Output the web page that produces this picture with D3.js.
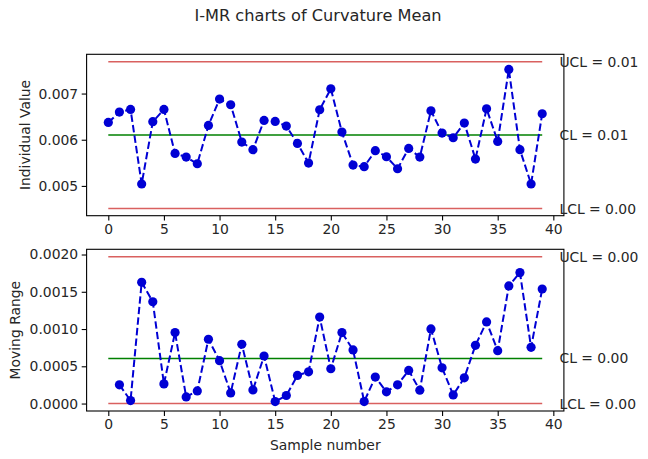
<!DOCTYPE html>
<html>
<head>
<meta charset="utf-8">
<script src="https://cdn.jsdelivr.net/npm/d3@7"></script>
<style>
  html, body { margin: 0; padding: 0; background: #fff; }
  svg { display: block; font-family: "DejaVu Sans", sans-serif; }
</style>
</head>
<body>
<svg id="chart" width="648" height="459"></svg>
<script>
// ---- data ----
const individualValues = [
  0.006374, 0.006600, 0.006656, 0.005041, 0.006390, 0.006656, 0.005704, 0.005625,
  0.005480, 0.006310, 0.006880, 0.006758, 0.005950, 0.005784, 0.006418, 0.006396,
  0.006296, 0.005920, 0.005495, 0.006649, 0.007104, 0.006166, 0.005452, 0.005416,
  0.005762, 0.005632, 0.005372, 0.005812, 0.005625, 0.006628, 0.006145, 0.006043,
  0.006361, 0.005582, 0.006671, 0.005963, 0.007522, 0.005784, 0.005041, 0.006563
];
const movingRanges = [
  null, 0.000251, 0.000040, 0.001627, 0.001366, 0.000264, 0.000952, 0.000089,
  0.000170, 0.000863, 0.000575, 0.000143, 0.000796, 0.000183, 0.000638, 0.000027,
  0.000108, 0.000378, 0.000426, 0.001160, 0.000467, 0.000952, 0.000719, 0.000027,
  0.000355, 0.000157, 0.000251, 0.000445, 0.000179, 0.001002, 0.000480, 0.000116,
  0.000345, 0.000782, 0.001096, 0.000709, 0.001578, 0.001757, 0.000755, 0.001537
];
const iLimits = { UCL: 0.00769, CL: 0.0061, LCL: 0.00451 };
const mrLimits = { UCL: 0.00197, CL: 0.000605, LCL: 0.0 };
const xTicks = [0, 5, 10, 15, 20, 25, 30, 35, 40];
const iTicks = [0.005, 0.006, 0.007];
const mrTicks = [0.0000, 0.0005, 0.0010, 0.0015, 0.0020];
const limitSpan = [0, 39];

const title = "I-MR charts of Curvature Mean";
const iLabel = "Individual Value";
const mrLabel = "Moving Range";
const xLabel = "Sample number";

// ---- layout ----
const svg = d3.select("#chart");
const left = 86.6, right = 563.9;
const topPanel = { y0: 54.3, y1: 215.7, domain: [0.004355, 0.00785] };
const botPanel = { y0: 249.3, y1: 411.0, domain: [-0.0001, 0.00207] };

const x = d3.scaleLinear().domain([-1.95, 40.95]).range([left, right]);
const FONT = 13.9;
const dotColor = "#0000d4";
const redLine = "#d9605f";
const greenLine = "#008000";

svg.append("text")
  .attr("x", 318).attr("y", 21)
  .attr("text-anchor", "middle")
  .attr("font-size", 16.2)
  .attr("fill", "#262626")
  .text(title);

function panel(p, values, limits, yTicks, yFmt, yLabelText, yLabelX, showXLabel) {
  const y = d3.scaleLinear().domain(p.domain).range([p.y1, p.y0]);
  const g = svg.append("g");

  const xa = g.append("g").attr("transform", `translate(0,${p.y1})`)
    .call(d3.axisBottom(x).tickValues(xTicks).tickFormat(d3.format("d")).tickSizeOuter(0).tickSize(4.9).tickPadding(3.5));
  const ya = g.append("g").attr("transform", `translate(${left},0)`)
    .call(d3.axisLeft(y).tickValues(yTicks).tickFormat(d3.format(yFmt)).tickSizeOuter(0).tickSize(4.9).tickPadding(3.5));
  [xa, ya].forEach(a => {
    a.select(".domain").remove();
    a.selectAll("line").attr("stroke", "#000").attr("stroke-width", 1.1);
    a.selectAll("text").attr("font-size", FONT).attr("fill", "#262626").attr("font-family", "DejaVu Sans, sans-serif");
  });

  const lines = [["UCL", redLine], ["CL", greenLine], ["LCL", redLine]];
  lines.forEach(([k, c]) => {
    g.append("line")
      .attr("x1", x(limitSpan[0])).attr("x2", x(limitSpan[1]))
      .attr("y1", y(limits[k])).attr("y2", y(limits[k]))
      .attr("stroke", c).attr("stroke-width", 1.5);
  });

  const pts = values.map((v, i) => [i, v]).filter(d => d[1] !== null);
  g.append("path")
    .datum(pts)
    .attr("fill", "none")
    .attr("stroke", dotColor)
    .attr("stroke-width", 2.0)
    .attr("stroke-dasharray", "7.4,3.2")
    .attr("d", d3.line().x(d => x(d[0])).y(d => y(d[1])));
  g.selectAll("circle.pt").data(pts).enter().append("circle")
    .attr("class", "pt")
    .attr("cx", d => x(d[0])).attr("cy", d => y(d[1]))
    .attr("r", 4.6).attr("fill", dotColor);

  g.append("rect")
    .attr("x", left).attr("y", p.y0)
    .attr("width", right - left).attr("height", p.y1 - p.y0)
    .attr("fill", "none").attr("stroke", "#000").attr("stroke-width", 1.1);

  lines.forEach(([k]) => {
    g.append("text")
      .attr("x", x(40.55)).attr("y", y(limits[k]))
      .attr("dy", "0.36em")
      .attr("font-size", FONT).attr("fill", "#262626")
      .text(`${k} = ${d3.format(".2f")(limits[k])}`);
  });

  g.append("text")
    .attr("transform", `translate(${yLabelX},${(p.y0 + p.y1) / 2}) rotate(-90)`)
    .attr("text-anchor", "middle")
    .attr("font-size", FONT).attr("fill", "#262626")
    .text(yLabelText);

  if (showXLabel) {
    g.append("text")
      .attr("x", (left + right) / 2).attr("y", 450)
      .attr("text-anchor", "middle")
      .attr("font-size", FONT).attr("fill", "#262626")
      .text(xLabel);
  }
}

panel(topPanel, individualValues, iLimits, iTicks, ".3f", iLabel, 30, false);
panel(botPanel, movingRanges, mrLimits, mrTicks, ".4f", mrLabel, 20, true);
</script>
</body>
</html>
